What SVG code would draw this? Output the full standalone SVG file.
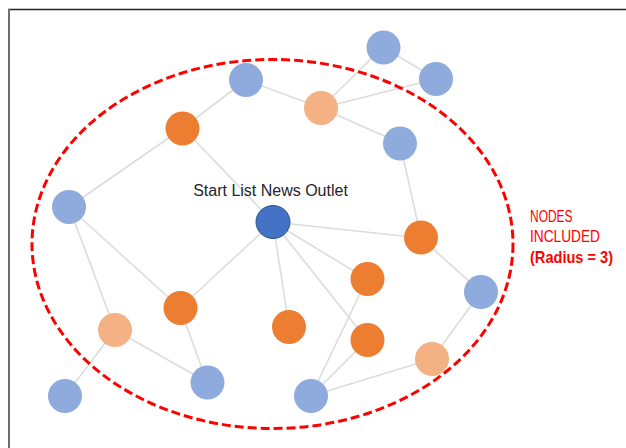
<svg xmlns="http://www.w3.org/2000/svg" width="626" height="448" viewBox="0 0 626 448">
<style>
.e{stroke:#dcdcdc;stroke-width:1.6;fill:none}
.b{fill:#8faadc}
.o{fill:#ed7d31}
.p{fill:#f4b183}
.s{fill:#4472c4;stroke:#2f528f;stroke-width:1}
.lbl{font-family:"Liberation Sans",Arial,sans-serif;font-size:16px;fill:#262626}
.red{font-family:"Liberation Sans",Arial,sans-serif;font-size:16.5px;fill:#ff0000}
</style>
<rect width="626" height="448" fill="#ffffff"/>
<line x1="8" y1="9.5" x2="626" y2="9.5" stroke="#222" stroke-width="1.5"/>
<line x1="9" y1="9" x2="9" y2="448" stroke="#6e6e6e" stroke-width="2"/>
<g id="connectors">
<line class="e" x1="383" y1="47" x2="436" y2="79"/>
<line class="e" x1="383" y1="47" x2="321" y2="108"/>
<line class="e" x1="436" y1="79" x2="321" y2="108"/>
<line class="e" x1="246" y1="80" x2="321" y2="108"/>
<line class="e" x1="321" y1="108" x2="400" y2="143"/>
<line class="e" x1="246" y1="80" x2="183" y2="128"/>
<line class="e" x1="183" y1="128" x2="69" y2="207"/>
<line class="e" x1="183" y1="128" x2="273" y2="222"/>
<line class="e" x1="400" y1="143" x2="421" y2="238"/>
<line class="e" x1="273" y1="222" x2="421" y2="238"/>
<line class="e" x1="273" y1="222" x2="180" y2="308"/>
<line class="e" x1="273" y1="222" x2="289" y2="327"/>
<line class="e" x1="273" y1="222" x2="367" y2="340"/>
<line class="e" x1="273" y1="222" x2="367" y2="279"/>
<line class="e" x1="421" y1="238" x2="481" y2="292"/>
<line class="e" x1="481" y1="292" x2="432" y2="359"/>
<line class="e" x1="432" y1="359" x2="311" y2="396"/>
<line class="e" x1="367" y1="279" x2="311" y2="396"/>
<line class="e" x1="367" y1="340" x2="311" y2="396"/>
<line class="e" x1="69" y1="207" x2="180" y2="308"/>
<line class="e" x1="69" y1="207" x2="115" y2="330"/>
<line class="e" x1="180" y1="308" x2="207" y2="382"/>
<line class="e" x1="115" y1="330" x2="207" y2="382"/>
<line class="e" x1="115" y1="330" x2="65" y2="396"/>
</g>
<g id="nA"><ellipse class="b" cx="383.5" cy="47.5" rx="17" ry="17"/></g>
<g id="nB"><ellipse class="b" cx="436" cy="79" rx="17" ry="17"/></g>
<g id="nC"><ellipse class="b" cx="246" cy="80" rx="17" ry="17"/></g>
<g id="nD"><ellipse class="p" cx="321" cy="108" rx="17" ry="17"/></g>
<g id="nE"><ellipse class="o" cx="182.5" cy="128.5" rx="17" ry="17"/></g>
<g id="nF"><ellipse class="b" cx="400" cy="143.5" rx="17" ry="17"/></g>
<g id="nG"><ellipse class="b" cx="69" cy="207" rx="17" ry="17"/></g>
<g id="nH"><ellipse class="s" cx="273" cy="222" rx="17" ry="16.5"/><text class="lbl" x="270.5" y="196" text-anchor="middle">Start List News Outlet</text></g>
<g id="nI"><ellipse class="o" cx="421" cy="237.5" rx="17" ry="17"/></g>
<g id="nJ"><ellipse class="o" cx="367.5" cy="279" rx="17" ry="17"/></g>
<g id="nK"><ellipse class="b" cx="481" cy="292" rx="17" ry="17"/></g>
<g id="nL"><ellipse class="o" cx="180.5" cy="308" rx="17" ry="17"/></g>
<g id="nM"><ellipse class="p" cx="115" cy="330" rx="17" ry="17"/></g>
<g id="nN"><ellipse class="o" cx="289" cy="327" rx="17" ry="17"/></g>
<g id="nO"><ellipse class="o" cx="367.5" cy="340" rx="17" ry="17"/></g>
<g id="nP"><ellipse class="p" cx="432" cy="359" rx="17" ry="17"/></g>
<g id="nQ"><ellipse class="b" cx="65" cy="396" rx="17" ry="17"/></g>
<g id="nR"><ellipse class="b" cx="207.5" cy="382.5" rx="17" ry="17"/></g>
<g id="nS"><ellipse class="b" cx="311" cy="396" rx="17" ry="17"/></g>
<g id="region">
<ellipse cx="272.5" cy="244" rx="240.5" ry="184.5" fill="none" stroke="#ff0000" stroke-width="3" stroke-dasharray="9 4"/>
<text class="red" x="530" y="221.8" textLength="42.5" lengthAdjust="spacingAndGlyphs">NODES</text>
<text class="red" x="530" y="242.4" textLength="70" lengthAdjust="spacingAndGlyphs">INCLUDED</text>
<text class="red" x="530" y="262.8" font-weight="bold" textLength="83" lengthAdjust="spacingAndGlyphs">(Radius = 3)</text>
</g>
</svg>
